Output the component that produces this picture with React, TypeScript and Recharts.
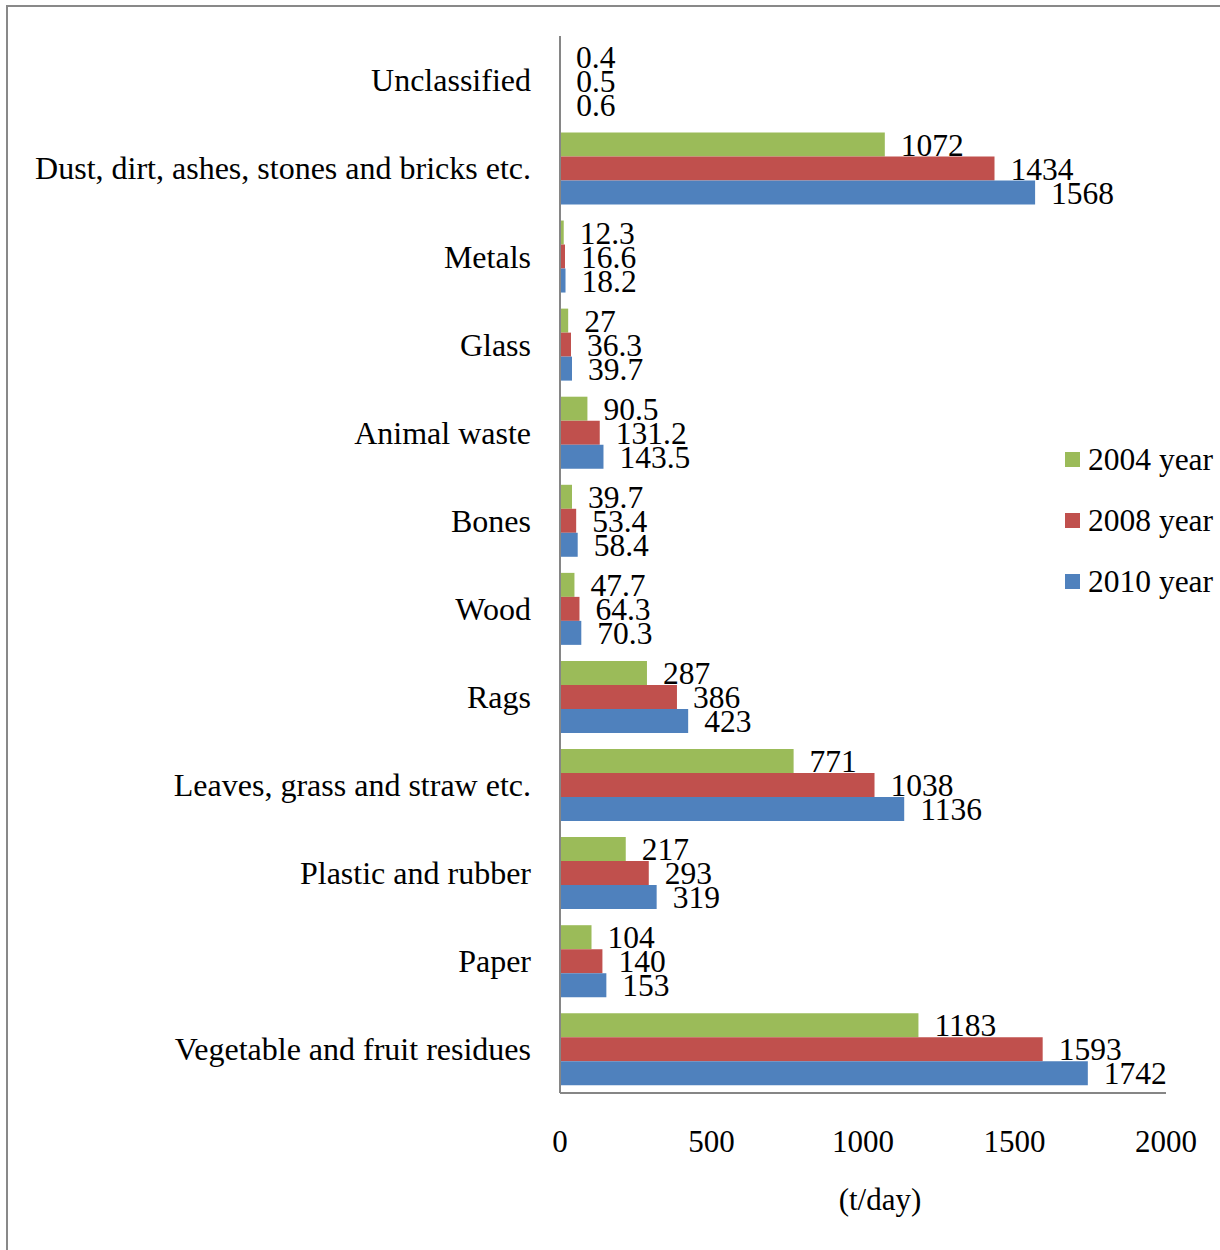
import { BarChart, Bar, XAxis, YAxis, LabelList } from "recharts";

// categories top to bottom, as in the picture
const categories = [
  "Unclassified",
  "Dust, dirt, ashes, stones and bricks etc.",
  "Metals",
  "Glass",
  "Animal waste",
  "Bones",
  "Wood",
  "Rags",
  "Leaves, grass and straw etc.",
  "Plastic and rubber",
  "Paper",
  "Vegetable and fruit residues",
];

const year2004 = [0.4, 1072, 12.3, 27, 90.5, 39.7, 47.7, 287, 771, 217, 104, 1183];
const year2008 = [0.5, 1434, 16.6, 36.3, 131.2, 53.4, 64.3, 386, 1038, 293, 140, 1593];
const year2010 = [0.6, 1568, 18.2, 39.7, 143.5, 58.4, 70.3, 423, 1136, 319, 153, 1742];

const xTicks = [0, 500, 1000, 1500, 2000];

const series = [
  { key: "y2004", name: "2004 year", color: "#9BBB59" },
  { key: "y2008", name: "2008 year", color: "#C0504D" },
  { key: "y2010", name: "2010 year", color: "#4F81BD" },
];

const data = categories.map((name, i) => ({
  name,
  y2004: year2004[i],
  y2008: year2008[i],
  y2010: year2010[i],
}));

const FONT = '"Liberation Serif", "Times New Roman", serif';
const AXIS = "#868686";

// legend drawn outside the chart so it doesn't eat plot space
function YearLegend() {
  return (
    <div
      style={{
        position: "absolute",
        left: 1065,
        top: 429,
        fontFamily: FONT,
        fontSize: 31.5,
        color: "#000",
      }}
    >
      {series.map((s) => (
        <div
          key={s.key}
          style={{ display: "flex", alignItems: "center", height: 61, whiteSpace: "nowrap" }}
        >
          <span
            style={{ width: 15, height: 15, background: s.color, display: "inline-block", marginRight: 8 }}
          />
          <span>{s.name}</span>
        </div>
      ))}
    </div>
  );
}

export default function App() {
  return (
    <div style={{ position: "absolute", left: 0, top: 0, width: 1220, height: 1250, background: "#fff" }}>
      {/* outer frame, only left and top edges are visible in the picture */}
      <div
        style={{
          position: "absolute",
          left: 6,
          top: 5,
          width: 1214,
          height: 1245,
          borderLeft: "2px solid #898989",
          borderTop: "2px solid #898989",
          boxSizing: "border-box",
        }}
      />
      <BarChart
        width={1220}
        height={1250}
        data={data}
        layout="vertical"
        margin={{ top: 36, right: 54, bottom: 77, left: 0 }}
        barCategoryGap="9.5%"
        barGap={0}
        style={{ fontFamily: FONT }}
      >
        <XAxis
          type="number"
          domain={[0, 2000]}
          ticks={xTicks}
          height={80}
          tickLine={false}
          tickSize={0}
          tickMargin={37}
          axisLine={{ stroke: AXIS, strokeWidth: 2 }}
          tick={{ fontSize: 31, fill: "#000", fontFamily: FONT }}
          label={{ value: "(t/day)", position: "bottom", offset: 15, dx: 17, fontSize: 31, fill: "#000", fontFamily: FONT }}
        />
        <YAxis
          type="category"
          dataKey="name"
          width={560}
          tickLine={false}
          tickSize={0}
          tickMargin={29}
          interval={0}
          axisLine={{ stroke: AXIS, strokeWidth: 2 }}
          tick={{ fontSize: 32, fill: "#000", fontFamily: FONT }}
        />
        {series.map((s) => (
          <Bar key={s.key} dataKey={s.key} name={s.name} fill={s.color} isAnimationActive={false}>
            <LabelList
              dataKey={s.key}
              position="right"
              offset={16}
              fill="#000"
              fontSize={31.5}
              fontFamily={FONT}
            />
          </Bar>
        ))}
      </BarChart>
      <YearLegend />
    </div>
  );
}
